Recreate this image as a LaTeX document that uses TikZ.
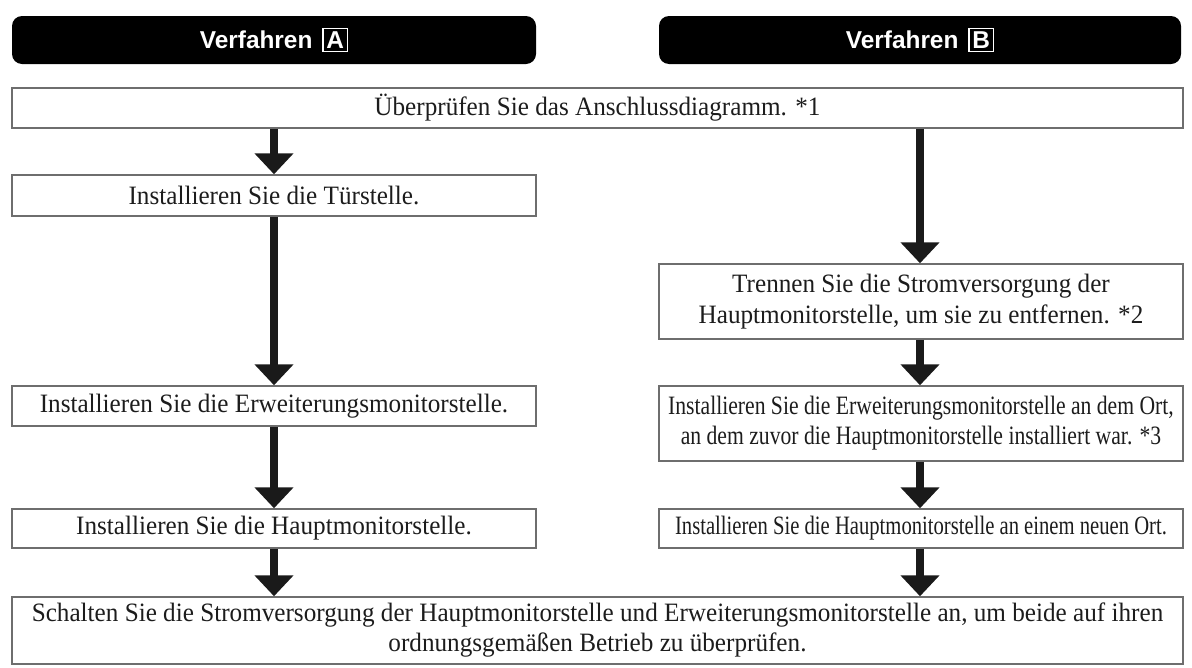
\documentclass[tikz,border=0pt]{standalone}
\usepackage{fontspec}
\setmainfont{Liberation Serif}[FakeStretch=0.95]
\newfontfamily\hdrfont{Liberation Sans}
\newfontfamily\condA{Liberation Serif}[FakeStretch=0.817]
\newfontfamily\condB{Liberation Serif}[FakeStretch=0.779]
\usetikzlibrary{arrows.meta}
\definecolor{boxgray}{HTML}{6E6E6E}
\definecolor{inkgray}{HTML}{1C1C1C}
\definecolor{arrgray}{HTML}{1A1A1A}
\newcommand\lettbox[1]{{\setlength\fboxsep{2.6pt}\setlength\fboxrule{1.4pt}\fbox{#1}}}
\begin{document}
\begin{tikzpicture}[x=1pt,y=-1pt,
  stepbox/.style={draw=boxgray, line width=1.5pt, inner sep=0pt, align=center,
    text=inkgray, font=\fontsize{26.5}{31}\selectfont},
  hdr/.style={fill=black, rounded corners=10pt, inner sep=0pt, text=white,
    minimum height=48pt, font=\hdrfont\bfseries\fontsize{24.4}{28}\selectfont},
  flow/.style={draw=arrgray, line width=8pt, -{Triangle[width=38pt,length=21pt]}}]
\useasboundingbox (0,0) rectangle (1192,667);
% headers
\node[hdr, minimum width=524pt] (hA) at (274,40) {Verfahren\hspace{10pt}\lettbox{A}};
\node[hdr, minimum width=522pt] (hB) at (920,40) {Verfahren\hspace{10pt}\lettbox{B}};
% boxes
\node[stepbox, minimum width=1171pt, minimum height=40pt] (top) at (597.5,108)
  {Überprüfen Sie das Anschlussdiagramm. *1};
\node[stepbox, minimum width=524pt, minimum height=41pt] (a1) at (274,195.5)
  {Installieren Sie die Türstelle.};
\node[stepbox, minimum width=524pt, minimum height=40pt] (a2) at (274,406)
  {Installieren Sie die Erweiterungsmonitorstelle.};
\node[stepbox, minimum width=524pt, minimum height=39pt] (a3) at (274,528.5)
  {Installieren Sie die Hauptmonitorstelle.};
\node[stepbox, minimum width=524pt, minimum height=75pt] (b1) at (921,301.5)
  {Trennen Sie die Stromversorgung der\\Hauptmonitorstelle, um sie zu entfernen. *2};
\node[stepbox, minimum width=524pt, minimum height=75pt, font=\condA\fontsize{26.5}{30}\selectfont] (b2) at (921,423.5)
  {Installieren Sie die Erweiterungsmonitorstelle an dem Ort,\\an dem zuvor die Hauptmonitorstelle installiert war. *3};
\node[stepbox, minimum width=524pt, minimum height=39pt, font=\condB\fontsize{26.5}{30}\selectfont] (b3) at (921,528.5)
  {Installieren Sie die Hauptmonitorstelle an einem neuen Ort.};
\node[stepbox, minimum width=1171pt, minimum height=67pt, font=\fontsize{26.5}{30}\selectfont] (bot) at (597.5,630.5)
  {Schalten Sie die Stromversorgung der Hauptmonitorstelle und Erweiterungsmonitorstelle an, um beide auf ihren\\ordnungsgemäßen Betrieb zu überprüfen.};
% connectors
\draw[flow] (a1.north |- top.south) -- (a1.north);
\draw[flow] (a1.south) -- (a2.north);
\draw[flow] (a2.south) -- (a3.north);
\draw[flow] (a3.south) -- (a3.south |- bot.north);
\coordinate (bx) at (920,0);
\draw[flow] (bx |- top.south) -- (bx |- b1.north);
\draw[flow] (bx |- b1.south) -- (bx |- b2.north);
\draw[flow] (bx |- b2.south) -- (bx |- b3.north);
\draw[flow] (bx |- b3.south) -- (bx |- bot.north);
\end{tikzpicture}
\end{document}
